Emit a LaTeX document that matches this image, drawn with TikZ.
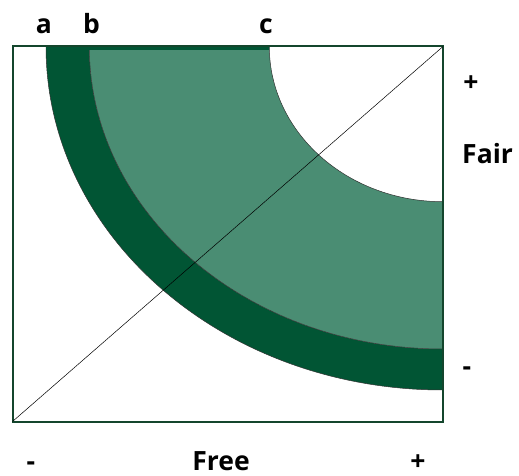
\documentclass[tikz,border=0pt]{standalone}
\usepackage{fontspec}
\setmainfont{Open Sans}
\definecolor{darkband}{RGB}{1,85,52}
\definecolor{lightband}{RGB}{74,141,115}
\definecolor{frame}{RGB}{20,70,45}
\tikzset{
  lbl/.style={font=\fontsize{26.5}{29}\selectfont\bfseries, inner sep=0pt},
  bandedge/.style={draw=black!80, line width=0.5pt},
}
\begin{document}
\begin{tikzpicture}[x=1pt,y=-1pt]
\useasboundingbox (0,0) rectangle (519,476);
\coordinate (bl) at (12.5,421.5);
\coordinate (tr) at (443,46.5);
% outer dark band
\fill[darkband] (46,46.5) arc[start angle=180,end angle=90,x radius=397,y radius=343.5]
  -- (443,349) arc[start angle=90,end angle=180,x radius=353.7,y radius=302.5] -- cycle;
\draw[bandedge] (46,46.5) arc[start angle=180,end angle=90,x radius=397,y radius=343.5];
% light band
\fill[lightband] (89.3,46.5) arc[start angle=180,end angle=90,x radius=353.7,y radius=302.5]
  -- (443,201.7) arc[start angle=90,end angle=180,x radius=173.7,y radius=155.2] -- cycle;
\draw[bandedge] (89.3,46.5) arc[start angle=180,end angle=90,x radius=353.7,y radius=302.5];
\draw[bandedge] (269.3,46.5) arc[start angle=180,end angle=90,x radius=173.7,y radius=155.2];
% top strip
\draw[darkband, line width=3.5pt] (46,48.5) -- (269,48.5);
% frame
\draw[frame, line width=2pt] (bl) rectangle (tr);
% diagonal
\draw[black, line width=0.5pt] (bl) -- (tr);
% labels
\node[lbl, anchor=base] (la) at (44,34) {a};
\node[lbl, anchor=base] (lb) at (91.5,34) {b};
\node[lbl, anchor=base] (lc) at (266,34) {c};
\node[lbl, anchor=base] (rp) at (471,92) {+};
\node[lbl, anchor=base west] (fair) at (462,163) {Fair};
\node[lbl, anchor=base] (rm) at (467,375) {-};
\node[lbl, anchor=base] (bm) at (31,470) {-};
\node[lbl, anchor=base] (free) at (221,470) {Free};
\node[lbl, anchor=base] (bp) at (418,470) {+};
\end{tikzpicture}
\end{document}
